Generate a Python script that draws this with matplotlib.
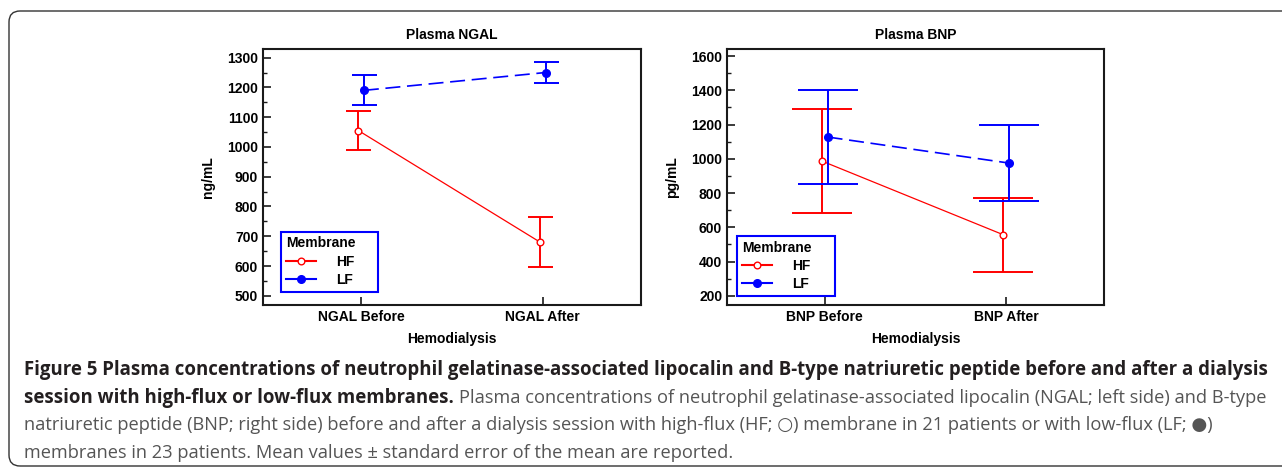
import matplotlib
matplotlib.use("Agg")
from matplotlib import pyplot as plt
from matplotlib.lines import Line2D
from matplotlib.patches import FancyBboxPatch
from matplotlib.ticker import MultipleLocator

# values (mean, standard error)
x_pos = [0, 1]
ngal_labels = ["NGAL Before", "NGAL After"]
ngal_hf_mean = [1055, 680]
ngal_hf_se = [65, 85]
ngal_lf_mean = [1190, 1250]
ngal_lf_se = [50, 35]

bnp_labels = ["BNP Before", "BNP After"]
bnp_hf_mean = [986, 556]
bnp_hf_se = [305, 217]
bnp_lf_mean = [1127, 975]
bnp_lf_se = [274, 223]

RED = "#ff0000"
BLUE = "#0000ff"
AXCOL = "#1a1a1a"
PLOTFONT = "Liberation Sans"
FS = 10
DODGE = 0.015

plt.rcParams["font.family"] = [PLOTFONT, "DejaVu Sans"]

fig = plt.figure(figsize=(12.82, 4.68), dpi=100)

# rounded frame around the figure + caption
frame = FancyBboxPatch((0.09, 0.02), 13.5, 4.55, boxstyle="round,pad=0,rounding_size=0.11",
                       transform=fig.dpi_scale_trans, fill=False, ec="#333333", lw=1.0, clip_on=False)
fig.add_artist(frame)


def panel(rect, title, ylabel, labels, hf_m, hf_se, lf_m, lf_se, ylim, major, minor, capsize, legend_anchor):
	ax = fig.add_axes(rect)
	xh = [x - DODGE for x in x_pos]
	xl = [x + DODGE for x in x_pos]
	ax.plot(xh, hf_m, color=RED, lw=0.9, zorder=2)
	ax.errorbar(xh, hf_m, yerr=hf_se, fmt="none", ecolor=RED, elinewidth=1.4, capsize=capsize, capthick=1.4, zorder=2)
	ax.plot(xh, hf_m, "o", ms=4.8, mfc="white", mec=RED, mew=1.0, zorder=4)
	ax.plot(xl, lf_m, color=BLUE, lw=1.2, dashes=(9, 4), zorder=3)
	ax.errorbar(xl, lf_m, yerr=lf_se, fmt="none", ecolor=BLUE, elinewidth=1.4, capsize=capsize, capthick=1.4, zorder=3)
	ax.plot(xl, lf_m, "o", ms=5.5, color=BLUE, zorder=5)

	ax.set_xlim(-0.54, 1.54)
	ax.set_ylim(*ylim)
	ax.set_xticks(x_pos)
	ax.set_xticklabels(labels)
	ax.yaxis.set_major_locator(MultipleLocator(major))
	ax.yaxis.set_minor_locator(MultipleLocator(minor))
	ax.tick_params(axis="both", which="major", direction="in", length=6, width=1.2, color=AXCOL, labelsize=FS, pad=3.5)
	ax.tick_params(axis="y", which="minor", direction="in", length=3, width=1.0, color=AXCOL)
	for lab in ax.get_xticklabels() + ax.get_yticklabels():
		lab.set_fontweight("bold")
	for sp in ax.spines.values():
		sp.set_linewidth(1.5)
		sp.set_color(AXCOL)

	ax.set_title(title, fontsize=FS, fontweight="bold", pad=7)
	ax.set_xlabel("Hemodialysis", fontsize=FS, fontweight="bold", labelpad=6)
	ax.set_ylabel(ylabel, fontsize=FS, fontweight="bold", labelpad=9)

	handles = [Line2D([], [], color=RED, lw=1.5, marker="o", ms=4.8, mfc="white", mec=RED, mew=1.0),
	           Line2D([], [], color=BLUE, lw=1.5, marker="o", ms=5.5, mfc=BLUE, mec=BLUE)]
	leg = ax.legend(handles, ["HF", "LF"], title="Membrane", loc="lower left", bbox_to_anchor=legend_anchor,
	                mode="expand", borderaxespad=0, fancybox=False, framealpha=1, edgecolor=BLUE,
	                prop={"weight": "bold", "size": FS}, title_fontproperties={"weight": "bold", "size": FS},
	                alignment="left", handlelength=2.2, handletextpad=1.4, labelspacing=0.3, borderpad=0.35)
	leg.get_frame().set_linewidth(1.5)
	return ax


panel([263 / 1282, 1 - 305 / 468, 378 / 1282, 256 / 468], "Plasma NGAL", "ng/mL", ngal_labels,
      ngal_hf_mean, ngal_hf_se, ngal_lf_mean, ngal_lf_se, (469, 1329), 100, 50, 9, (0.047, 0.052, 0.256, 0.2))
panel([727 / 1282, 1 - 305 / 468, 377 / 1282, 256 / 468], "Plasma BNP", "pg/mL", bnp_labels,
      bnp_hf_mean, bnp_hf_se, bnp_lf_mean, bnp_lf_se, (146, 1641), 200, 100, 21.5, (0.026, 0.035, 0.26, 0.2))

# caption
CAPFONT = ["Open Sans", "DejaVu Sans"]
BOLDFS = 13.4
REGFS = 13.15
BOLDCOL = "#231f20"
REGCOL = "#555555"
x0 = 24 / 1282
base = [375.5, 403, 430.5, 458]

t1 = fig.text(x0, 1 - base[0] / 468, "Figure 5 Plasma concentrations of neutrophil gelatinase-associated lipocalin and B-type natriuretic peptide before and after a dialysis",
              family=CAPFONT, fontsize=BOLDFS, fontweight="bold", color=BOLDCOL, va="baseline")
t2 = fig.text(x0, 1 - base[1] / 468, "session with high-flux or low-flux membranes.",
              family=CAPFONT, fontsize=BOLDFS, fontweight="bold", color=BOLDCOL, va="baseline")
fig.canvas.draw()
bb = t2.get_window_extent()
fig.text((bb.x1 + 5) / fig.bbox.width, 1 - base[1] / 468,
         "Plasma concentrations of neutrophil gelatinase-associated lipocalin (NGAL; left side) and B-type",
         family=CAPFONT, fontsize=REGFS, color=REGCOL, va="baseline")
fig.text(x0, 1 - base[2] / 468,
         "natriuretic peptide (BNP; right side) before and after a dialysis session with high-flux (HF; \u25cb) membrane in 21 patients or with low-flux (LF; \u25cf)",
         family=CAPFONT, fontsize=REGFS, color=REGCOL, va="baseline")
fig.text(x0, 1 - base[3] / 468,
         "membranes in 23 patients. Mean values \u00b1 standard error of the mean are reported.",
         family=CAPFONT, fontsize=REGFS, color=REGCOL, va="baseline")

fig.savefig("out.png", dpi=100)
